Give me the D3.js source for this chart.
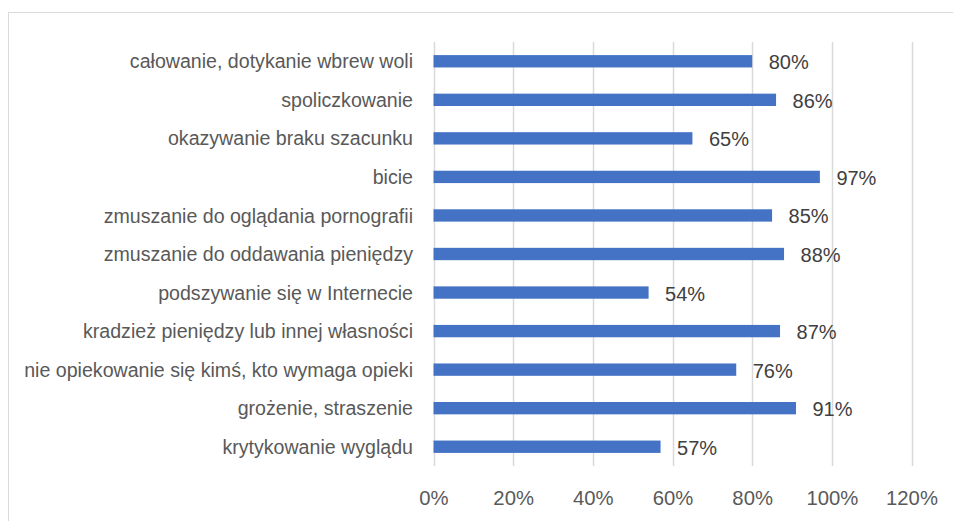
<!DOCTYPE html>
<html>
<head>
<meta charset="utf-8">
<script src="https://cdn.jsdelivr.net/npm/d3@7"></script>
<style>
  body { margin: 0; background: #fff; }
  svg { display: block; font-family: "Liberation Sans", Arial, sans-serif; }
</style>
</head>
<body>
<svg id="chart" width="953" height="521"></svg>
<script>
var categories = [
  "całowanie, dotykanie wbrew woli",
  "spoliczkowanie",
  "okazywanie braku szacunku",
  "bicie",
  "zmuszanie do oglądania pornografii",
  "zmuszanie do oddawania pieniędzy",
  "podszywanie się w Internecie",
  "kradzież pieniędzy lub innej własności",
  "nie opiekowanie się kimś, kto wymaga opieki",
  "grożenie, straszenie",
  "krytykowanie wyglądu"
]
var values = [0.80, 0.86, 0.65, 0.97, 0.85, 0.88, 0.54, 0.87, 0.76, 0.91, 0.57]
var tickValues = [0, 0.2, 0.4, 0.6, 0.8, 1.0, 1.2]

var svg = d3.select("#chart")

// chart frame
svg.append("rect")
  .attr("x", 8.5).attr("y", 12.5)
  .attr("width", 960).attr("height", 520)
  .attr("fill", "none")
  .attr("stroke", "#d9d9d9")

var plotLeft = 433.5, plotRight = 911.5, plotTop = 42, plotBottom = 466

var x = d3.scaleLinear().domain([0, 1.2]).range([plotLeft, plotRight])
var y = d3.scaleBand().domain(categories).range([plotTop, plotBottom]).paddingInner(0.68).paddingOuter(0.34)

// gridlines
svg.append("g")
  .selectAll("line")
  .data(tickValues)
  .enter()
  .append("line")
  .attr("x1", d => Math.round(x(d)) + 0.5)
  .attr("x2", d => Math.round(x(d)) + 0.5)
  .attr("y1", plotTop)
  .attr("y2", plotBottom)
  .attr("stroke", "#d9d9d9")
  .attr("stroke-width", 1.5)

// x axis
var xAxis = svg.append("g")
  .attr("transform", "translate(0," + plotBottom + ")")
  .call(d3.axisBottom(x).tickValues(tickValues).tickFormat(d3.format(".0%")).tickSize(0).tickPadding(25))
xAxis.select(".domain").remove()
xAxis.selectAll("text")
  .attr("fill", "#595959")
  .style("font-size", "20.3px")

// y axis labels
var yAxis = svg.append("g")
  .attr("transform", "translate(413,0)")
  .call(d3.axisLeft(y).tickSize(0).tickPadding(0))
yAxis.select(".domain").remove()
yAxis.selectAll("text")
  .attr("fill", "#595959")
  .attr("dy", "0.36em")
  .style("font-size", "19.6px")

// bars
svg.append("g")
  .selectAll(".bar")
  .data(values)
  .enter()
  .append("rect")
  .classed("bar", true)
  .attr("x", x(0))
  .attr("y", (d, i) => y(categories[i]))
  .attr("width", d => x(d) - x(0))
  .attr("height", y.bandwidth())
  .attr("fill", "#4472c4")

// value labels
svg.append("g")
  .selectAll("text")
  .data(values)
  .enter()
  .append("text")
  .attr("x", d => x(d) + 16.5)
  .attr("y", (d, i) => y(categories[i]) + y.bandwidth() / 2 + 8)
  .attr("fill", "#404040")
  .style("font-size", "20px")
  .text(d => d3.format(".0%")(d))
</script>
</body>
</html>
